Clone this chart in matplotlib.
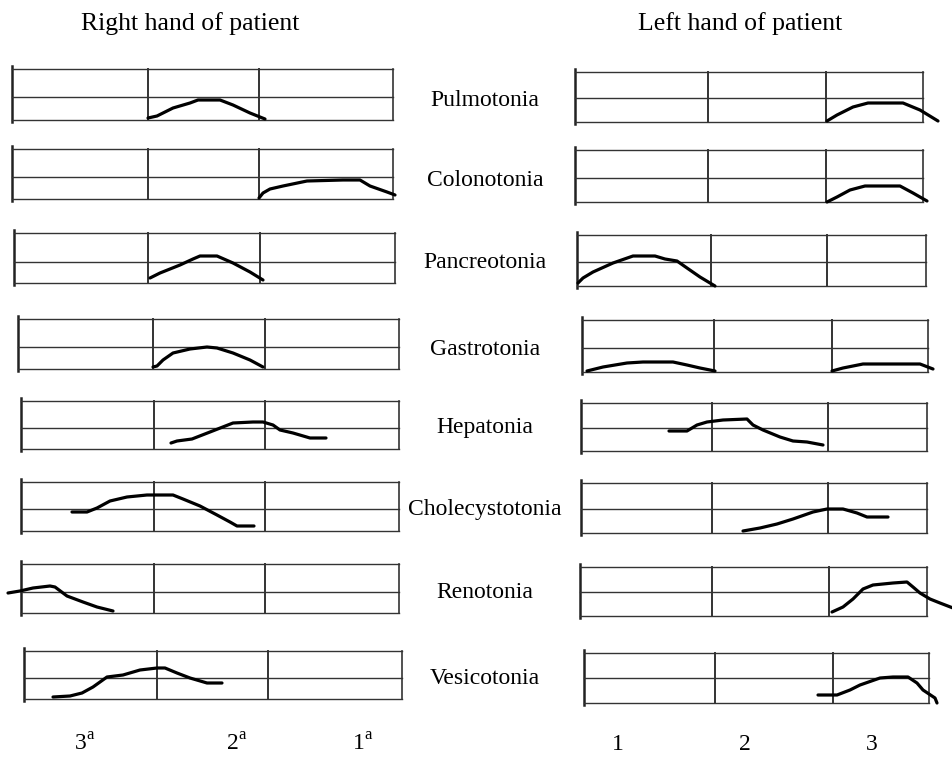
import matplotlib
matplotlib.use("Agg")
import matplotlib.pyplot as plt

plt.rcParams['font.family'] = ['Liberation Serif', 'DejaVu Serif']
plt.rcParams['mathtext.fontset'] = 'custom'
plt.rcParams['mathtext.rm'] = 'Liberation Serif'

organs = ["Pulmotonia", "Colonotonia", "Pancreotonia", "Gastrotonia",
          "Hepatonia", "Cholecystotonia", "Renotonia", "Vesicotonia"]
right_hand_ticks = ["3$^{\\rm a}$", "2$^{\\rm a}$", "1$^{\\rm a}$"]
left_hand_ticks = ["1", "2", "3"]

# pulse traces, (x, y) in box units (1 unit = 1 px, origin = bottom-left of box)
rh_pulmo = [(136, 2), (145, 4), (161, 12), (178, 17), (186, 20), (208, 20), (221, 15), (238, 7), (253, 1)]
rh_colono = [(247, 1), (251, 6), (258, 10), (271, 13), (295, 18), (331, 19), (348, 19), (358, 13), (375, 7), (383, 4)]
rh_pancreo = [(136, 5), (146, 10), (166, 18), (179, 24), (186, 27), (203, 27), (219, 20), (236, 11), (249, 3)]
rh_gastro = [(135, 2), (139, 3), (145, 9), (155, 16), (172, 20), (189, 22), (199, 21), (215, 16), (232, 9), (245, 2)]
rh_hepa = [(150, 6), (156, 8), (171, 10), (189, 17), (212, 26), (232, 27), (242, 27), (252, 24), (259, 19), (272, 16), (289, 11), (305, 11)]
rh_chole = [(51, 19), (66, 19), (76, 23), (89, 30), (106, 34), (126, 36), (152, 36), (162, 32), (179, 25), (196, 16), (209, 9), (216, 5), (233, 5)]
rh_reno = [(-13, 20), (-1, 22), (12, 25), (29, 27), (34, 26), (46, 17), (62, 11), (76, 6), (92, 2)]
rh_vesico = [(29, 2), (46, 3), (58, 6), (69, 12), (83, 22), (99, 24), (116, 29), (133, 31), (141, 31), (153, 26), (166, 21), (183, 16), (198, 16)]

lh_pulmo = [(252, 1), (262, 7), (278, 15), (293, 19), (328, 19), (345, 12), (363, 1)]
lh_colono = [(252, 0), (262, 5), (275, 12), (290, 16), (325, 16), (338, 9), (352, 1)]
lh_pancreo = [(1, 3), (6, 8), (16, 14), (36, 23), (56, 30), (78, 30), (88, 27), (100, 25), (110, 18), (123, 9), (138, 0)]
lh_gastro_a = [(5, 1), (21, 5), (45, 9), (61, 10), (91, 10), (105, 7), (118, 4), (133, 1)]
lh_gastro_b = [(250, 1), (261, 4), (281, 8), (338, 8), (351, 3)]
lh_hepa = [(88, 20), (106, 20), (116, 26), (126, 29), (142, 31), (166, 32), (172, 26), (182, 21), (199, 14), (212, 10), (226, 9), (242, 6)]
lh_chole = [(162, 2), (179, 5), (196, 9), (212, 14), (232, 21), (246, 24), (262, 24), (276, 20), (286, 16), (307, 16)]
lh_reno = [(252, 4), (263, 9), (273, 17), (283, 27), (293, 31), (313, 33), (327, 34), (333, 29), (340, 23), (350, 17), (360, 13), (373, 8)]
lh_vesico = [(234, 8), (253, 8), (266, 13), (276, 18), (296, 25), (309, 26), (324, 26), (333, 20), (339, 13), (351, 5), (353, 0)]

right_traces = [[rh_pulmo], [rh_colono], [rh_pancreo], [rh_gastro],
                [rh_hepa], [rh_chole], [rh_reno], [rh_vesico]]
left_traces = [[lh_pulmo], [lh_colono], [lh_pancreo], [lh_gastro_a, lh_gastro_b],
               [lh_hepa], [lh_chole], [lh_reno], [lh_vesico]]

# box layout in px: left, bottom, width, height, divider1, divider2, midline
right_boxes = [(12, 120, 381, 51, 136, 247, 23), (12, 199, 381, 50, 136, 247, 22),
               (14, 283, 381, 50, 134, 246, 21), (18, 369, 381, 50, 135, 247, 22),
               (21, 449, 378, 48, 133, 244, 21), (21, 531, 378, 49, 133, 244, 22),
               (21, 613, 378, 49, 133, 244, 21), (24, 699, 378, 48, 133, 244, 21)]
left_boxes = [(575, 122, 348, 50, 133, 251, 24), (575, 202, 348, 52, 133, 251, 24),
              (577, 286, 349, 51, 134, 250, 24), (582, 372, 346, 52, 132, 250, 24),
              (581, 451, 346, 48, 131, 247, 23), (581, 533, 346, 50, 131, 247, 24),
              (580, 616, 347, 49, 132, 249, 24), (584, 703, 345, 50, 131, 249, 25)]
label_y = [101, 180, 262, 349, 428, 510, 592, 678]

W, H = 953, 760
fig = plt.figure(figsize=(W / 100, H / 100), dpi=100)
grid = '#333333'


def panel(box, traces):
    x0, yb, w, h, d1, d2, mid = box
    ax = fig.add_axes([x0 / W, 1 - yb / H, w / W, h / H])
    ax.set_xlim(0, w)
    ax.set_ylim(0, h)
    ax.axis('off')
    ax.plot([0, 0], [-2, h + 3], color='#222222', lw=1.8, clip_on=False)
    for xv in (d1, d2):
        ax.plot([xv, xv], [0, h], color=grid, lw=1.4, clip_on=False)
    ax.plot([w, w], [0, h], color=grid, lw=1.2, clip_on=False)
    for yv in (0, mid, h):
        ax.plot([0, w], [yv, yv], color=grid, lw=1.0, clip_on=False)
    for seg in traces:
        xs = [p[0] for p in seg]
        ys = [p[1] for p in seg]
        ax.plot(xs, ys, color='black', lw=2.3, clip_on=False,
                solid_capstyle='round', solid_joinstyle='round')


for box, tr in zip(right_boxes, right_traces):
    panel(box, tr)
for box, tr in zip(left_boxes, left_traces):
    panel(box, tr)

for name, y in zip(organs, label_y):
    fig.text(485 / W, 1 - y / H, name, ha='center', va='center', fontsize=17)

fig.text(190 / W, 1 - 24 / H, "Right hand of patient", ha='center', va='center', fontsize=18.5)
fig.text(740 / W, 1 - 24 / H, "Left hand of patient", ha='center', va='center', fontsize=18.5)

for lab, x in zip(right_hand_ticks, [85, 237, 363]):
    fig.text(x / W, 1 - 745 / H, lab, ha='center', va='center', fontsize=17)
for lab, x in zip(left_hand_ticks, [618, 745, 872]):
    fig.text(x / W, 1 - 745 / H, lab, ha='center', va='center', fontsize=17)

fig.savefig("out.png", dpi=100, facecolor='white')
